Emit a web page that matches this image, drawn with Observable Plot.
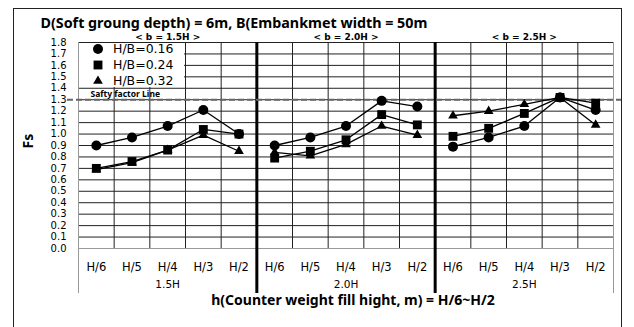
<!DOCTYPE html>
<html><head><meta charset="utf-8">
<script src="https://cdn.jsdelivr.net/npm/d3@7"></script>
<script src="https://cdn.jsdelivr.net/npm/@observablehq/plot@0.6"></script>
<style>
body{margin:0;background:#fff;}
#wrap{position:relative;width:634px;height:327px;overflow:hidden;background:#fff;font-family:"Noto Sans",sans-serif;}
#border{position:absolute;left:13px;top:8px;width:607px;height:340px;border:1.5px solid #222;pointer-events:none;}
#legend{position:absolute;left:79px;top:43px;width:105px;height:44px;background:#fff;}
.lg{position:absolute;left:12px;height:14px;display:flex;align-items:center;font-family:"DejaVu Sans",sans-serif;font-size:12.5px;line-height:14px;color:#000;white-space:nowrap;}
.lg span{line-height:14px;}
.lg svg{margin-right:8px;}
</style></head>
<body><div id="wrap"><div id="border"></div></div>
<script>
const title = "D(Soft groung depth) = 6m, B(Embankmet width = 50m";
const xTitle = "h(Counter weight fill hight, m) = H/6~H/2";
const yTitle = "Fs";
const safetyLabel = "Safty factor Line";
const groups = ["1.5H", "2.0H", "2.5H"];
const groupHeaders = ["< b = 1.5H >", "< b = 2.0H >", "< b = 2.5H >"];
const hLabels = ["H/6", "H/5", "H/4", "H/3", "H/2"];
const series = ["H/B=0.16", "H/B=0.24", "H/B=0.32"];
const fs016 = [0.90, 0.97, 1.07, 1.21, 1.00, 0.90, 0.97, 1.07, 1.29, 1.24, 0.89, 0.97, 1.07, 1.32, 1.21];
const fs024 = [0.70, 0.76, 0.86, 1.04, 1.00, 0.79, 0.85, 0.95, 1.17, 1.08, 0.98, 1.05, 1.18, 1.32, 1.27];
const fs032 = [0.69, 0.75, 0.86, 0.99, 0.85, 0.84, 0.81, 0.91, 1.07, 0.99, 1.16, 1.20, 1.26, 1.32, 1.08];
const safety = 1.3;
const yTicks = [0.0, 0.1, 0.2, 0.3, 0.4, 0.5, 0.6, 0.7, 0.8, 0.9, 1.0, 1.1, 1.2, 1.3, 1.4, 1.5, 1.6, 1.7, 1.8];

const values = [fs016, fs024, fs032];
const symbols = ["circle", "square", "triangle"];
const nCat = groups.length * hLabels.length;
const rows = [];
groups.forEach((g, gi) => hLabels.forEach((h, hi) => {
  series.forEach((s, si) => rows.push({group: g, h, idx: gi * hLabels.length + hi + 0.5, series: s, fs: values[si][gi * hLabels.length + hi]}));
}));
const catCenters = d3.range(nCat).map(i => i + 0.5);
const innerBounds = d3.range(1, nCat).filter(i => i % hLabels.length !== 0);
const groupBounds = d3.range(1, groups.length).map(i => i * hLabels.length);
const groupCenters = groups.map((g, i) => i * hLabels.length + hLabels.length / 2);

const wide = "DejaVu Sans";
const plot = Plot.plot({
  width: 634, height: 327,
  marginLeft: 78, marginRight: 21, marginTop: 42, marginBottom: 79,
  style: {fontFamily: "Noto Sans", background: "transparent", overflow: "visible"},
  x: {domain: [0, nCat], axis: null},
  y: {domain: [0, 1.8], axis: null},
  symbol: {domain: series, range: symbols},
  marks: [
    Plot.ruleY(yTicks.filter(v => v > 0), {stroke: "#222", strokeWidth: 1}),
    Plot.ruleY([0], {stroke: "#999", strokeWidth: 1}),
    Plot.ruleX(innerBounds, {stroke: "#222", strokeWidth: 1}),
    Plot.ruleX([0, nCat], {stroke: "#999", strokeWidth: 1, insetBottom: -45}),
    Plot.ruleX(groupBounds, {stroke: "#000", strokeWidth: 3, insetBottom: -45}),
    Plot.ruleY([safety], {stroke: "#666", strokeWidth: 2, strokeDasharray: "6,3", insetLeft: -11, insetRight: -9}),
    Plot.text([safety], {y: d => d, text: () => safetyLabel, frameAnchor: "left", dx: 12, dy: -5, textAnchor: "start", fontSize: 8.5, fontWeight: "bold", fill: "#000"}),
    Plot.line(rows, {x: "idx", y: "fs", z: d => d.series + d.group, stroke: "#000", strokeWidth: 1.3}),
    Plot.dot(rows.filter(d => d.series === series[0]), {x: "idx", y: "fs", symbol: "series", r: 5, fill: "#000", stroke: "none"}),
    Plot.dot(rows.filter(d => d.series === series[2]), {x: "idx", y: "fs", symbol: "series", r: 3.6, fill: "#000", stroke: "none"}),
    Plot.dot(rows.filter(d => d.series === series[1]), {x: "idx", y: "fs", symbol: "series", r: 5, fill: "#000", stroke: "none"}),
    Plot.axisY(yTicks, {tickSize: 0, tickPadding: 12, tickFormat: d => d.toFixed(1), fontSize: 10, fontFamily: wide, label: null, fill: "#000"}),
    Plot.axisX(catCenters, {tickSize: 0, tickPadding: 14, tickFormat: d => hLabels[Math.floor(d) % hLabels.length], fontSize: 11.5, fontFamily: wide, label: null, fill: "#000"}),
    Plot.axisX(groupCenters, {tickSize: 0, tickPadding: 32, tickFormat: d => groups[Math.floor(d / hLabels.length)], fontSize: 10.5, fontFamily: wide, label: null, fill: "#000"}),
    Plot.text(groupHeaders, {x: (d, i) => groupCenters[i], text: d => d, frameAnchor: "top", dy: -9, fontSize: 9, fontFamily: wide, fontWeight: "bold", fill: "#000"}),
    Plot.text([xTitle], {text: d => d, frameAnchor: "bottom", dx: 7, dy: 56, fontSize: 14, fontWeight: "bold", fill: "#000"}),
    Plot.text([yTitle], {text: d => d, frameAnchor: "left", dx: -50, dy: 3, rotate: -90, fontSize: 14, fontWeight: "bold", fill: "#000"}),
    Plot.text([title], {text: d => d, frameAnchor: "top-left", dx: -38, dy: -25, textAnchor: "start", fontSize: 14.3, fontWeight: "bold", fill: "#000"})
  ]
});
plot.style.position = "absolute";
plot.style.left = "0px";
plot.style.top = "0px";
const wrap = document.getElementById("wrap");
wrap.insertBefore(plot, wrap.firstChild);

// legend box
const legend = document.createElement("div");
legend.id = "legend";
series.forEach((s, i) => {
  const row = document.createElement("div");
  row.className = "lg";
  row.style.top = (i * 16 - 1) + "px";
  const sz = i === 2 ? 3.6 : 5;
  const svg = d3.create("svg").attr("width", 14).attr("height", 14);
  svg.append("path").attr("transform", "translate(7,7)")
    .attr("d", d3.symbol(i === 0 ? d3.symbolCircle : i === 1 ? d3.symbolSquare : d3.symbolTriangle, Math.PI * sz * sz)())
    .attr("fill", "#000");
  row.appendChild(svg.node());
  const t = document.createElement("span");
  t.textContent = s;
  row.appendChild(t);
  legend.appendChild(row);
});
wrap.appendChild(legend);
</script>
</body></html>
